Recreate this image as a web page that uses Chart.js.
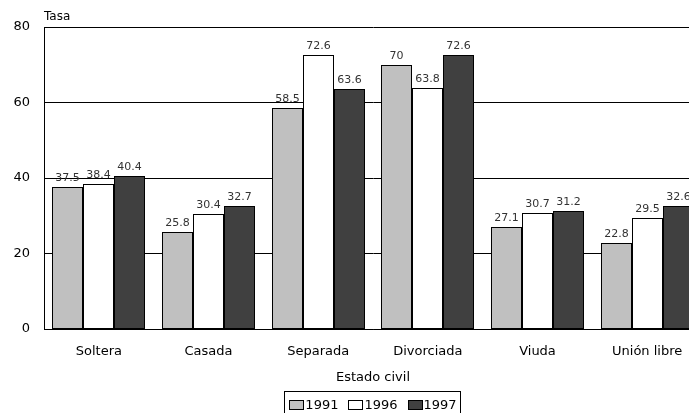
<!DOCTYPE html>
<html>
<head>
<meta charset="utf-8">
<script src="https://cdn.jsdelivr.net/npm/chart.js@4/dist/chart.umd.min.js"></script>
<style>
  html, body { margin: 0; padding: 0; background: #fff; }
  #wrap { width: 689px; height: 413px; overflow: hidden; }
  #c { display: block; }
</style>
</head>
<body>
<div id="wrap"><canvas id="c" width="702" height="413"></canvas></div>
<script>
// Tasa por estado civil, 1991, 1996 y 1997
const categories = ['Soltera', 'Casada', 'Separada', 'Divorciada', 'Viuda', 'Unión libre'];
const years = ['1991', '1996', '1997'];
const values1991 = [37.5, 25.8, 58.5, 70, 27.1, 22.8];
const values1996 = [38.4, 30.4, 72.6, 63.8, 30.7, 29.5];
const values1997 = [40.4, 32.7, 63.6, 72.6, 31.2, 32.6];
const yTicks = [0, 20, 40, 60, 80];

const FONT = 'DejaVu Sans';
const fills = ['#c0c0c0', '#ffffff', '#404040'];

// snap bar edges to whole pixels so the 1px outlines stay sharp
const crispBars = {
  id: 'crispBars',
  afterDatasetsUpdate(chart) {
    chart.data.datasets.forEach((ds, i) => {
      chart.getDatasetMeta(i).data.forEach(bar => {
        const l = Math.round(bar.x - bar.width / 2);
        const r = Math.round(bar.x + bar.width / 2);
        bar.x = (l + r) / 2;
        bar.width = r - l;
        bar.y = Math.round(bar.y);
        bar.base = Math.round(bar.base);
      });
    });
  }
};

const annotations = {
  id: 'annotations',
  afterDatasetsDraw(chart) {
    const ctx = chart.ctx;
    ctx.save();
    // value labels above each bar
    ctx.font = '11px "' + FONT + '"';
    ctx.fillStyle = '#333';
    ctx.textAlign = 'center';
    ctx.textBaseline = 'bottom';
    chart.data.datasets.forEach((ds, i) => {
      chart.getDatasetMeta(i).data.forEach((bar, j) => {
        ctx.fillText(String(ds.data[j]), bar.x, bar.y - 3);
      });
    });
    ctx.restore();
  },
  afterDraw(chart) {
    const ctx = chart.ctx;
    const area = chart.chartArea;
    const cx = (area.left + area.right) / 2;
    ctx.save();
    ctx.fillStyle = '#000';
    ctx.font = '12px "' + FONT + '"';
    ctx.textAlign = 'left';
    ctx.textBaseline = 'bottom';
    ctx.fillText('Tasa', area.left, area.top - 4);

    ctx.font = '13px "' + FONT + '"';
    ctx.textAlign = 'center';
    ctx.textBaseline = 'middle';
    ctx.fillText('Estado civil', cx, 378);

    // legend
    ctx.font = '13px "' + FONT + '"';
    const box = 14, boxH = 9, gap = 2, sep = 10;
    const widths = years.map(y => ctx.measureText(y).width);
    let total = 0;
    widths.forEach((w, i) => { total += box + gap + w + (i < years.length - 1 ? sep : 0); });
    const lx = cx - total / 2;
    const ly = 405;
    ctx.strokeStyle = '#000';
    ctx.lineWidth = 1;
    ctx.strokeRect(Math.round(lx - 5) + 0.5, 391.5, Math.round(total + 9), 24);
    let x = lx;
    ctx.textAlign = 'left';
    years.forEach((y, i) => {
      const bx = Math.round(x) + 0.5;
      ctx.fillStyle = fills[i];
      ctx.fillRect(bx, ly - 4.5, box, boxH);
      ctx.strokeRect(bx, ly - 4.5, box, boxH);
      ctx.fillStyle = '#000';
      ctx.fillText(y, x + box + gap, ly + 1);
      x += box + gap + widths[i] + sep;
    });
    ctx.restore();
  }
};

new Chart(document.getElementById('c'), {
  type: 'bar',
  data: {
    labels: categories,
    datasets: [values1991, values1996, values1997].map((d, i) => ({
      label: years[i],
      data: d,
      backgroundColor: fills[i],
      borderColor: '#000',
      borderWidth: 1,
      borderSkipped: false,
      categoryPercentage: 0.848,
      barPercentage: 1.0
    }))
  },
  options: {
    responsive: false,
    animation: false,
    events: [],
    layout: { padding: { top: 27, right: 0, left: 0, bottom: 0 } },
    plugins: {
      legend: { display: false },
      tooltip: { enabled: false }
    },
    scales: {
      x: {
        grid: { display: false },
        border: { color: '#000', width: 1 },
        ticks: { color: '#000', font: { family: FONT, size: 13 }, padding: 7, maxRotation: 0 },
        afterFit(scale) { scale.height = 84; }
      },
      y: {
        min: 0,
        max: 80,
        afterBuildTicks(scale) { scale.ticks = yTicks.map(v => ({ value: v })); },
        grid: { color: '#000', lineWidth: 1, drawTicks: false },
        border: { color: '#000', width: 1 },
        ticks: { color: '#000', font: { family: FONT, size: 13 }, padding: 14 },
        afterFit(scale) { scale.width = 44; }
      }
    }
  },
  plugins: [crispBars, annotations]
});
</script>
</body>
</html>
